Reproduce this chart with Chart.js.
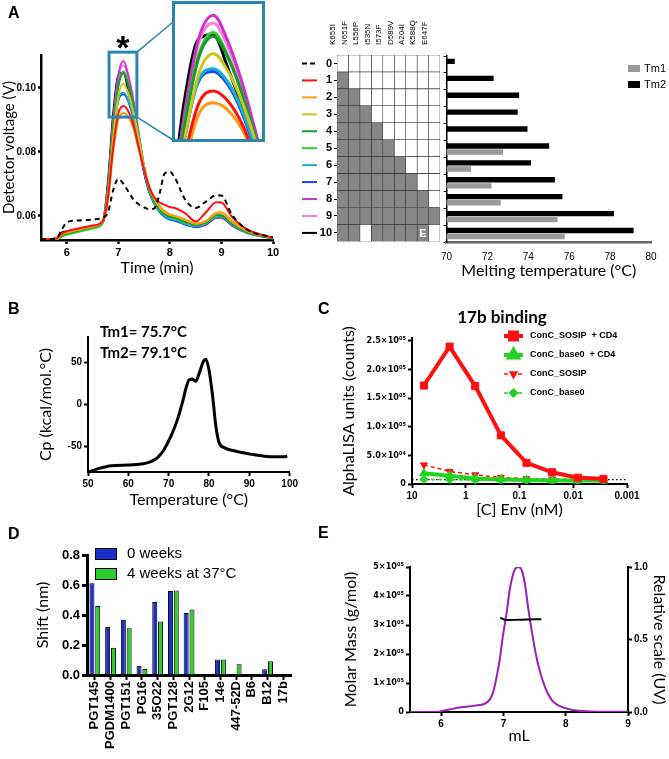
<!DOCTYPE html>
<html lang="en">
<head>
<meta charset="UTF-8">
<title>Env stabilisation figure</title>
<script src="https://cdn.jsdelivr.net/npm/chart.js@4.4.0/dist/chart.umd.min.js"></script>
<style>
  body { margin: 0; background: #fff; }
  #figure { position: relative; width: 669px; height: 759px; overflow: hidden; background: #fff;
            font-family: "Liberation Sans", Arial, sans-serif; }
  .panel { position: absolute; }
  .letter { position: absolute; font-size: 16px; font-weight: bold; line-height: 1; }
  #insetBox { border: 3px solid #2b87b0; box-sizing: border-box; background: #fff; }
</style>
</head>
<body>
<div id="figure">
  <div class="panel" style="left:0;top:0;width:285px;height:280px"><canvas id="secChart"></canvas></div>
  <div class="panel" style="left:440px;top:0;width:229px;height:280px"><canvas id="tmChart"></canvas></div>
  <div class="panel" style="left:290px;top:0;width:160px;height:250px"><canvas id="mutChart"></canvas></div>
  <div class="panel" id="insetBox" style="left:172px;top:1px;width:93px;height:141px"><canvas id="insetChart"></canvas></div>
  <div class="panel" style="left:0;top:320px;width:300px;height:190px"><canvas id="dscChart"></canvas></div>
  <div class="panel" style="left:300px;top:290px;width:369px;height:230px"><canvas id="lisaChart"></canvas></div>
  <div class="panel" style="left:0;top:530px;width:300px;height:229px"><canvas id="bliChart"></canvas></div>
  <div class="panel" style="left:300px;top:540px;width:369px;height:219px"><canvas id="malsChart"></canvas></div>
  <div class="letter" style="left:8px;top:5px">A</div>
  <div class="letter" style="left:8px;top:301px">B</div>
  <div class="letter" style="left:318px;top:301px">C</div>
  <div class="letter" style="left:8px;top:526px">D</div>
  <div class="letter" style="left:318px;top:525px">E</div>
</div>
<script>
// ---------- A: SEC traces (time in min, detector voltage in V) ----------
const secTime = [5.5, 5.8, 5.9, 6.0, 6.2, 6.5, 6.7, 6.8, 6.9, 7.0, 7.1, 7.2, 7.3, 7.4, 7.5,
                 7.6, 7.7, 7.8, 7.9, 8.0, 8.1, 8.3, 8.5, 8.7, 8.9, 9.0, 9.2, 9.5, 10.0];
const sec0  = [0.0527, 0.0530, 0.0557, 0.0580, 0.0586, 0.0589, 0.0595, 0.0612, 0.0680, 0.0716, 0.0700, 0.0675, 0.0650, 0.0636, 0.0627,
               0.0621, 0.0624, 0.0670, 0.0733, 0.0738, 0.0718, 0.0650, 0.0625, 0.0645, 0.0665, 0.0664, 0.0605, 0.0557, 0.0533];
const sec1  = [0.0527, 0.0530, 0.0545, 0.0552, 0.0560, 0.0570, 0.0585, 0.0660, 0.0815, 0.0920, 0.0944, 0.0925, 0.0880, 0.0810, 0.0745,
               0.0690, 0.0658, 0.0642, 0.0635, 0.0628, 0.0625, 0.0608, 0.0583, 0.0612, 0.0643, 0.0642, 0.0598, 0.0558, 0.0532];
const sec2  = [0.0527, 0.0530, 0.0543, 0.0550, 0.0558, 0.0568, 0.0584, 0.0650, 0.0800, 0.0900, 0.0922, 0.0908, 0.0870, 0.0805, 0.0745,
               0.0690, 0.0655, 0.0632, 0.0615, 0.0605, 0.0600, 0.0588, 0.0576, 0.0585, 0.0610, 0.0612, 0.0585, 0.0555, 0.0532];
const sec3  = [0.0527, 0.0529, 0.0541, 0.0548, 0.0556, 0.0567, 0.0583, 0.0670, 0.0845, 0.0975, 0.1013, 0.0980, 0.0920, 0.0840, 0.0755,
               0.0692, 0.0652, 0.0628, 0.0612, 0.0604, 0.0600, 0.0588, 0.0576, 0.0584, 0.0608, 0.0610, 0.0582, 0.0553, 0.0531];
const sec4  = [0.0527, 0.0528, 0.0538, 0.0545, 0.0553, 0.0565, 0.0580, 0.0680, 0.0870, 0.1005, 0.1045, 0.1005, 0.0935, 0.0845, 0.0752,
               0.0686, 0.0646, 0.0622, 0.0606, 0.0598, 0.0594, 0.0582, 0.0572, 0.0580, 0.0603, 0.0602, 0.0576, 0.0550, 0.0530];
const sec5  = [0.0527, 0.0527, 0.0535, 0.0541, 0.0549, 0.0561, 0.0578, 0.0680, 0.0875, 0.1010, 0.1052, 0.1008, 0.0935, 0.0842, 0.0748,
               0.0682, 0.0643, 0.0620, 0.0604, 0.0596, 0.0592, 0.0580, 0.0571, 0.0578, 0.0600, 0.0600, 0.0575, 0.0549, 0.0530];
const sec6  = [0.0527, 0.0528, 0.0539, 0.0546, 0.0554, 0.0565, 0.0582, 0.0670, 0.0850, 0.0965, 0.0985, 0.0960, 0.0905, 0.0825, 0.0742,
               0.0678, 0.0640, 0.0615, 0.0600, 0.0592, 0.0588, 0.0576, 0.0568, 0.0576, 0.0598, 0.0598, 0.0573, 0.0548, 0.0530];
const sec7  = [0.0527, 0.0528, 0.0539, 0.0546, 0.0554, 0.0565, 0.0582, 0.0668, 0.0848, 0.0962, 0.0980, 0.0955, 0.0900, 0.0820, 0.0738,
               0.0675, 0.0637, 0.0612, 0.0597, 0.0589, 0.0585, 0.0573, 0.0566, 0.0575, 0.0597, 0.0597, 0.0572, 0.0548, 0.0530];
const sec8  = [0.0527, 0.0528, 0.0539, 0.0546, 0.0554, 0.0565, 0.0582, 0.0690, 0.0895, 0.1040, 0.1084, 0.1035, 0.0955, 0.0855, 0.0755,
               0.0685, 0.0642, 0.0617, 0.0600, 0.0592, 0.0588, 0.0575, 0.0565, 0.0572, 0.0594, 0.0594, 0.0570, 0.0547, 0.0530];
const sec9  = [0.0527, 0.0528, 0.0539, 0.0546, 0.0554, 0.0565, 0.0582, 0.0688, 0.0890, 0.1032, 0.1070, 0.1025, 0.0948, 0.0850, 0.0752,
               0.0684, 0.0642, 0.0618, 0.0601, 0.0593, 0.0589, 0.0576, 0.0567, 0.0575, 0.0597, 0.0597, 0.0572, 0.0548, 0.0530];
const sec10 = [0.0527, 0.0530, 0.0548, 0.0552, 0.0557, 0.0566, 0.0583, 0.0710, 0.0920, 0.1040, 0.1048, 0.0985, 0.0910, 0.0820, 0.0735,
               0.0675, 0.0640, 0.0618, 0.0603, 0.0596, 0.0592, 0.0580, 0.0570, 0.0578, 0.0601, 0.0601, 0.0575, 0.0550, 0.0531];
const secColors = ['#000000', '#ff1010', '#ff9a12', '#c8c81a', '#1e9632', '#2fd12f', '#1ab0cc', '#0d47ff', '#cc33cc', '#ff7ee0', '#000000'];
const secTicksX = [6, 7, 8, 9, 10];
const secTicksY = [0.06, 0.08, 0.10];
const zoomBox = { x: [6.82, 7.36], y: [0.0909, 0.1112] };

// ---------- A: mutation table and melting temperatures ----------
const rowLabels = ['0', '1', '2', '3', '4', '5', '6', '7', '8', '9', '10'];
const mutations = ['K655I', 'N651F', 'L556P', 'I535N', 'I573F', 'D589V', 'A204I', 'K588Q', 'E647F'];
const mutMatrix = [
  [0, 0, 0, 0, 0, 0, 0, 0, 0],
  [1, 0, 0, 0, 0, 0, 0, 0, 0],
  [1, 1, 0, 0, 0, 0, 0, 0, 0],
  [1, 1, 1, 0, 0, 0, 0, 0, 0],
  [1, 1, 1, 1, 0, 0, 0, 0, 0],
  [1, 1, 1, 1, 1, 0, 0, 0, 0],
  [1, 1, 1, 1, 1, 1, 0, 0, 0],
  [1, 1, 1, 1, 1, 1, 1, 0, 0],
  [1, 1, 1, 1, 1, 1, 1, 1, 0],
  [1, 1, 1, 1, 1, 1, 1, 1, 1],
  [1, 1, 0, 1, 1, 1, 1, 1, 0]
];
const tm1 = [null, null, null, null, null, 72.76, 71.2, 72.2, 72.65, 75.43, 75.78];
const tm2 = [70.4, 72.3, 73.55, 73.48, 73.96, 75.02, 74.13, 75.3, 75.67, 78.19, 79.15];
const tmTicks = [70, 72, 74, 76, 78, 80];

// ---------- B: DSC ----------
const dscTemp = [50, 52.5, 55.8, 59.9, 63.2, 65.6, 67.3, 68.9, 70.6, 72.2, 73.5, 74.3, 75.1, 75.9,
                 76.7, 77.6, 78.6, 79.2, 80.0, 80.9, 81.7, 82.5, 83.7, 86.2, 90.3, 94.4, 98.6, 99.4];
const dscCp   = [-80, -76, -72.5, -71.8, -70.6, -67.8, -62.7, -53, -37.3, -17.6, 3.9, 19.6, 29.4, 30.2,
                 27.5, 37.3, 51, 53.7, 41.2, 9.8, -25.5, -45.1, -51, -54.9, -58.8, -61.6, -62, -61];
const dscTicksX = [50, 60, 70, 80, 90, 100];
const dscTicksY = [-50, 0, 50];

// ---------- C: AlphaLISA 17b binding ----------
const lisaConc  = [6, 2, 0.667, 0.222, 0.0741, 0.0247, 0.00823, 0.00274];
const sosipCD4  = [172000, 240000, 171000, 85000, 37000, 20500, 11000, 9000];
const base0CD4  = [18600, 14600, 9800, 8000, 6800, 6200, 6000, 6000];
const sosipOnly = [33400, 22000, 16000, 11600, 9000, 8500, 8000, 7500];
const base0Only = [8000, 7500, 7000, 6800, 6500, 6300, 6200, 6000];
const lisaCutoff = 7500;
const lisaTicksX = [10, 1, 0.1, 0.01, 0.001];
const lisaTickLabelsX = ['10', '1', '0.1', '0.01', '0.001'];
const lisaTicksY = [0, 50000, 100000, 150000, 200000, 250000];
const lisaTickLabelsY = ['0', '5.0×10⁰⁴', '1.0×10⁰⁵', '1.5×10⁰⁵', '2.0×10⁰⁵', '2.5×10⁰⁵'];

// ---------- D: BLI shifts ----------
const bliAntibodies = ['PGT145', 'PGDM1400', 'PGT151', 'PG16', '35O22', 'PGT128', '2G12', 'F105', '14e', '447-52D', 'B6', 'B12', '17b'];
const bli0wk = [0.611, 0.32, 0.369, 0.062, 0.487, 0.56, 0.413, 0, 0.104, 0, 0.007, 0.038, 0];
const bli4wk = [0.46, 0.182, 0.311, 0.04, 0.356, 0.564, 0.436, 0, 0.104, 0.071, 0, 0.091, 0];
const bliTicksY = [0, 0.2, 0.4, 0.6, 0.8];

// ---------- E: SEC-MALS ----------
const uvVol = [5.5, 5.9, 6.11, 6.32, 6.54, 6.70, 6.78, 6.83, 6.88, 6.94, 6.99, 7.05, 7.10, 7.17, 7.24,
               7.30, 7.35, 7.40, 7.47, 7.55, 7.66, 7.77, 7.88, 8.04, 8.25, 8.63, 9.0];
const uvRel = [0, 0, 0.016, 0.032, 0.044, 0.057, 0.085, 0.13, 0.22, 0.36, 0.52, 0.68, 0.84, 0.97, 1.0,
               0.97, 0.87, 0.71, 0.52, 0.34, 0.18, 0.085, 0.046, 0.021, 0.007, 0.002, 0.002];
const massVol = [6.95, 7.02, 7.23, 7.42, 7.61];
const massMw  = [325000, 318000, 318000, 319000, 320000];
const malsTicksX = [6, 7, 8, 9];
const malsTicksY = [0, 100000, 200000, 300000, 400000, 500000];
const malsTickLabelsY = ['0', '1×10⁰⁵', '2×10⁰⁵', '3×10⁰⁵', '4×10⁰⁵', '5×10⁰⁵'];
const uvTicks = [0, 0.5, 1.0];

// ---------- shared look ----------
const ARIAL = "'Liberation Sans', Arial, sans-serif";
const SUPFONT = "'DejaVu Sans Condensed', 'DejaVu Sans', sans-serif";
const CALIBRI = "Lato, 'Liberation Sans', sans-serif";
const TEAL = '#2b87b0';
const CELL_GRAY = '#878787';
Chart.defaults.font.family = ARIAL;
Chart.defaults.color = '#000';
Chart.defaults.animation = false;
Chart.defaults.responsive = true;
Chart.defaults.maintainAspectRatio = false;
Chart.defaults.plugins.legend.display = false;
Chart.defaults.plugins.tooltip.enabled = false;
Chart.defaults.elements.point.radius = 0;

function setTicks(list) { return function (s) { s.ticks = list.map(function (v) { return { value: v }; }); }; }
function fixWidth(w) { return function (s) { s.width = w; }; }
function fixHeight(h) { return function (s) { s.height = h; }; }
function pick(values, labels) { return function (v) { return labels[values.indexOf(v)]; }; }
function points(xs, ys) { return xs.map(function (x, i) { return { x: x, y: ys[i] }; }); }
// Prism-style axis: black line, outward tick marks, no grid
function prism(lineW, tickLen, extra) {
  return Object.assign({
    border: { display: true, color: '#000', width: lineW },
    grid: { display: true, drawOnChartArea: false, drawTicks: true, tickLength: tickLen, tickWidth: lineW, tickColor: '#000' }
  }, extra);
}
function axisTitle(text, size, pad) {
  return { display: true, text: text, font: { family: CALIBRI, size: size }, padding: pad };
}
function label(ctx, text, x, y, font, align) {
  ctx.save();
  ctx.font = font;
  ctx.fillStyle = '#000';
  ctx.textAlign = align || 'left';
  ctx.textBaseline = 'middle';
  ctx.fillText(text, x, y);
  ctx.restore();
}

function secDatasets(width) {
  const curves = [sec0, sec1, sec2, sec3, sec4, sec5, sec6, sec7, sec8, sec9, sec10];
  return curves.map(function (c, i) {
    return {
      data: points(secTime, c),
      borderColor: secColors[i],
      borderWidth: width,
      borderDash: i === 0 ? [5, 4] : [],
      cubicInterpolationMode: 'monotone'
    };
  });
}

// ---------- A: SEC main ----------
const secOverlay = {
  id: 'secOverlay',
  afterDraw(chart) {
    const ctx = chart.ctx, xs = chart.scales.x, ys = chart.scales.y;
    const x0 = xs.getPixelForValue(zoomBox.x[0]), x1 = xs.getPixelForValue(zoomBox.x[1]);
    const y0 = ys.getPixelForValue(zoomBox.y[1]), y1 = ys.getPixelForValue(zoomBox.y[0]);
    ctx.save();
    ctx.strokeStyle = TEAL;
    ctx.lineWidth = 3;
    ctx.strokeRect(x0, y0, x1 - x0, y1 - y0);
    ctx.lineWidth = 1.5;
    ctx.beginPath();
    ctx.moveTo(x1, y0); ctx.lineTo(173, 22);
    ctx.moveTo(x1, y1); ctx.lineTo(173, 140);
    ctx.stroke();
    ctx.restore();
    label(chart.ctx, '*', (x0 + x1) / 2, y0 - 2, 'bold 34px ' + ARIAL, 'center');
  }
};

new Chart(document.getElementById('secChart'), {
  type: 'line',
  data: { datasets: secDatasets(2) },
  options: {
    layout: { padding: { top: 55, right: 12, left: 0, bottom: 0 } },
    scales: {
      x: prism(2.5, 4, {
        type: 'linear', min: 5.5, max: 10,
        afterBuildTicks: setTicks(secTicksX), afterFit: fixHeight(40),
        ticks: { font: { size: 11, weight: 'bold' }, padding: 2 },
        title: axisTitle('Time (min)', 16, { top: 0, bottom: 3 })
      }),
      y: prism(2.5, 3, {
        min: 0.0525, max: 0.1103,
        afterBuildTicks: setTicks(secTicksY), afterFit: fixWidth(41),
        ticks: { font: { size: 10, weight: 'bold' }, padding: 2, callback: function (v) { return v.toFixed(2); } },
        title: axisTitle('Detector voltage (V)', 15, { top: 0, bottom: 0 })
      })
    }
  },
  plugins: [secOverlay]
});

new Chart(document.getElementById('insetChart'), {
  type: 'line',
  data: { datasets: secDatasets(3) },
  options: {
    layout: { padding: 0 },
    scales: {
      x: { type: 'linear', display: false, min: 6.84, max: 7.43 },
      y: { display: false, min: 0.0855, max: 0.1105 }
    }
  }
});

// ---------- A: mutation grid ----------
const mutOverlay = {
  id: 'mutOverlay',
  afterDraw(chart) {
    const ctx = chart.ctx, ys = chart.scales.y, xs = chart.scales.x;
    ctx.save();
    ctx.lineWidth = 2;
    rowLabels.forEach(function (r, i) {
      const y = ys.getPixelForValue(i);
      ctx.strokeStyle = secColors[i];
      ctx.setLineDash(i === 0 ? [5, 3] : []);
      ctx.beginPath();
      ctx.moveTo(12, y); ctx.lineTo(27, y);
      ctx.stroke();
    });
    ctx.restore();
    ctx.save();
    ctx.fillStyle = '#fff';
    ctx.font = 'bold 11px ' + ARIAL;
    ctx.textAlign = 'center';
    ctx.textBaseline = 'middle';
    ctx.fillText('E', xs.getPixelForValue(7.5), ys.getPixelForValue(10) + 1);
    ctx.restore();
  }
};

new Chart(document.getElementById('mutChart'), {
  type: 'bar',
  data: {
    labels: rowLabels,
    datasets: mutations.map(function (m, j) {
      return {
        label: m,
        data: rowLabels.map(function () { return 1; }),
        backgroundColor: mutMatrix.map(function (r) { return r[j] ? CELL_GRAY : '#ffffff'; }),
        borderColor: '#333',
        borderWidth: 0.6,
        borderSkipped: false,
        barPercentage: 1,
        categoryPercentage: 1
      };
    })
  },
  options: {
    indexAxis: 'y',
    layout: { padding: { top: 0, right: 10, left: 0, bottom: 6 } },
    scales: {
      x: { stacked: true, min: 0, max: 9, display: false },
      x2: {
        type: 'category', position: 'top', labels: mutations, offset: true,
        grid: { display: false }, border: { display: false },
        ticks: { autoSkip: false, minRotation: 90, maxRotation: 90, padding: 2,
                 font: { size: 8, family: "'Liberation Sans Narrow', " + ARIAL } },
        afterFit: fixHeight(55)
      },
      y: {
        stacked: true, offset: true,
        border: { display: false },
        grid: { display: true, drawOnChartArea: false, offset: false, tickLength: 3, tickColor: '#000' },
        ticks: { autoSkip: false, padding: 2, font: { size: 11, weight: 'bold' } },
        afterFit: fixWidth(47)
      }
    }
  },
  plugins: [mutOverlay]
});

// ---------- A: Tm bars ----------
const tmLegend = {
  id: 'tmLegend',
  afterDraw(chart) {
    const ctx = chart.ctx;
    ctx.save();
    ctx.fillStyle = '#9a9a9a'; ctx.fillRect(188, 65, 12, 7);
    ctx.fillStyle = '#000'; ctx.fillRect(188, 81, 12, 7);
    ctx.restore();
    label(ctx, 'Tm1', 204, 69, '11px ' + ARIAL);
    label(ctx, 'Tm2', 204, 85, '11px ' + ARIAL);
  }
};

new Chart(document.getElementById('tmChart'), {
  type: 'bar',
  data: {
    labels: rowLabels,
    datasets: [
      { label: 'Tm2', data: tm2, backgroundColor: '#000' },
      { label: 'Tm1', data: tm1, backgroundColor: '#9a9a9a' }
    ]
  },
  options: {
    indexAxis: 'y',
    layout: { padding: { top: 56, right: 18, left: 0, bottom: 0 } },
    datasets: { bar: { categoryPercentage: 0.72, barPercentage: 0.88 } },
    scales: {
      x: {
        type: 'linear', min: 70, max: 80,
        afterBuildTicks: setTicks(tmTicks), afterFit: fixHeight(38),
        grid: { display: false },
        border: { display: true, color: '#666', width: 2.5 },
        ticks: { font: { size: 10 }, padding: 1 },
        title: axisTitle('Melting temperature (°C)', 16, { top: 0, bottom: 0 })
      },
      y: {
        border: { display: true, color: '#000', width: 1.5 },
        grid: { display: true, drawOnChartArea: false, offset: true, tickLength: 3, tickColor: '#000' },
        ticks: { display: false },
        afterFit: fixWidth(3)
      }
    }
  },
  plugins: [tmLegend]
});

// ---------- B: DSC ----------
const dscNotes = {
  id: 'dscNotes',
  afterDraw(chart) {
    label(chart.ctx, 'Tm1= 75.7°C', 100, 12, 'bold 15px ' + CALIBRI);
    label(chart.ctx, 'Tm2= 79.1°C', 100, 33, 'bold 15px ' + CALIBRI);
  }
};

new Chart(document.getElementById('dscChart'), {
  type: 'line',
  data: { datasets: [{ data: points(dscTemp, dscCp), borderColor: '#000', borderWidth: 3, cubicInterpolationMode: 'monotone' }] },
  options: {
    layout: { padding: { top: 17, right: 10, left: 36, bottom: 0 } },
    scales: {
      x: prism(2, 4, {
        type: 'linear', min: 50, max: 100,
        afterBuildTicks: setTicks(dscTicksX), afterFit: fixHeight(38),
        ticks: { font: { size: 10, weight: 'bold' }, padding: 2 },
        title: axisTitle('Temperature (°C)', 16, { top: 0, bottom: 1 })
      }),
      y: prism(2, 4, {
        min: -80, max: 80,
        afterBuildTicks: setTicks(dscTicksY), afterFit: fixWidth(52),
        ticks: { font: { size: 10, weight: 'bold' }, padding: 2 },
        title: axisTitle('Cp (kcal/mol.°C)', 16, { top: 0, bottom: 0 })
      })
    }
  },
  plugins: [dscNotes]
});

// ---------- C: AlphaLISA ----------
const lisaSeries = [
  { name: 'ConC_SOSIP  + CD4', color: '#ff1010', width: 4, dash: [], style: 'rect', rot: 0, r: 5 },
  { name: 'ConC_base0  + CD4', color: '#22d322', width: 4, dash: [], style: 'triangle', rot: 0, r: 5 },
  { name: 'ConC_SOSIP', color: '#ff1010', width: 1.5, dash: [4, 3], style: 'triangle', rot: 180, r: 4 },
  { name: 'ConC_base0', color: '#22d322', width: 1.5, dash: [4, 3], style: 'rectRot', rot: 0, r: 4 }
];
const lisaValues = [sosipCD4, base0CD4, sosipOnly, base0Only];

const lisaDecor = {
  id: 'lisaDecor',
  afterDraw(chart) {
    const ctx = chart.ctx;
    label(ctx, '17b binding', 202, 28, 'bold 17px ' + CALIBRI, 'center');
    lisaSeries.forEach(function (s, i) {
      const y = 46 + i * 19;
      ctx.save();
      ctx.strokeStyle = s.color;
      ctx.fillStyle = s.color;
      ctx.lineWidth = s.width;
      ctx.setLineDash(s.dash);
      ctx.beginPath(); ctx.moveTo(204, y); ctx.lineTo(223, y); ctx.stroke();
      ctx.setLineDash([]);
      Chart.helpers.drawPoint(ctx, { pointStyle: s.style, rotation: s.rot, radius: s.r, borderWidth: 1 }, 213.5, y);
      ctx.restore();
      label(ctx, s.name, 230, y, 'bold 9px ' + ARIAL);
    });
  }
};

const lisaSets = lisaSeries.map(function (s, i) {
  return {
    data: points(lisaConc, lisaValues[i]),
    borderColor: s.color, backgroundColor: s.color,
    borderWidth: s.width, borderDash: s.dash,
    pointStyle: s.style, pointRotation: s.rot, pointRadius: s.r,
    pointBorderWidth: 1, pointBorderColor: s.color, pointBackgroundColor: s.color
  };
});
lisaSets.push({
  data: points([10, 0.001], [lisaCutoff, lisaCutoff]),
  borderColor: '#000', borderWidth: 1.2, borderDash: [1.5, 2.5], pointRadius: 0
});

new Chart(document.getElementById('lisaChart'), {
  type: 'line',
  data: { datasets: lisaSets },
  options: {
    layout: { padding: { top: 48, right: 42, left: 38, bottom: 0 } },
    scales: {
      x: prism(2, 4, {
        type: 'logarithmic', reverse: true, min: 0.001, max: 10,
        afterBuildTicks: setTicks(lisaTicksX), afterFit: fixHeight(36),
        ticks: { font: { size: 10, weight: 'bold' }, padding: 2, callback: pick(lisaTicksX, lisaTickLabelsX) },
        title: axisTitle('[C] Env (nM)', 16, { top: 0, bottom: 1 })
      }),
      y: prism(2, 4, {
        min: 0, max: 255000,
        afterBuildTicks: setTicks(lisaTicksY), afterFit: fixWidth(74),
        ticks: { font: { size: 9, weight: 'bold', family: SUPFONT }, padding: 2, callback: pick(lisaTicksY, lisaTickLabelsY) },
        title: axisTitle('AlphaLISA units (counts)', 16, { top: 1, bottom: 0 })
      })
    }
  },
  plugins: [lisaDecor]
});

// ---------- D: BLI ----------
const BLUE = '#1a30cc';
const GREEN = '#2fcc2f';
const bliLegend = {
  id: 'bliLegend',
  afterDraw(chart) {
    const ctx = chart.ctx;
    ctx.save();
    ctx.lineWidth = 1;
    ctx.strokeStyle = '#000';
    ctx.fillStyle = BLUE; ctx.fillRect(95.5, 18.5, 21, 11); ctx.strokeRect(95.5, 18.5, 21, 11);
    ctx.fillStyle = GREEN; ctx.fillRect(95.5, 38.5, 21, 11); ctx.strokeRect(95.5, 38.5, 21, 11);
    ctx.restore();
    label(ctx, '0 weeks', 127, 24, '15px ' + ARIAL);
    label(ctx, '4 weeks at 37°C', 127, 44, '15px ' + ARIAL);
  }
};

new Chart(document.getElementById('bliChart'), {
  type: 'bar',
  data: {
    labels: bliAntibodies,
    datasets: [
      { label: '0 weeks', data: bli0wk, backgroundColor: BLUE, borderColor: '#000', borderWidth: 1 },
      { label: '4 weeks at 37°C', data: bli4wk, backgroundColor: GREEN, borderColor: '#000', borderWidth: 1 }
    ]
  },
  options: {
    layout: { padding: { top: 25, right: 3, left: 32, bottom: 0 } },
    datasets: { bar: { categoryPercentage: 0.74, barPercentage: 0.86 } },
    scales: {
      x: {
        border: { display: true, color: '#000', width: 3 },
        grid: { display: true, drawOnChartArea: false, offset: false, tickLength: 5, tickWidth: 2, tickColor: '#000' },
        ticks: { autoSkip: false, minRotation: 90, maxRotation: 90, padding: 1, font: { size: 13, weight: 'bold' } },
        afterFit: fixHeight(84)
      },
      y: prism(3, 5, {
        min: 0, max: 0.8,
        afterBuildTicks: setTicks(bliTicksY), afterFit: fixWidth(55),
        ticks: { font: { size: 13, weight: 'bold' }, padding: 2, callback: function (v) { return v.toFixed(1); } },
        title: axisTitle('Shift (nm)', 16, { top: 1, bottom: 0 })
      })
    }
  },
  plugins: [bliLegend]
});

// ---------- E: SEC-MALS ----------
new Chart(document.getElementById('malsChart'), {
  type: 'line',
  data: {
    datasets: [
      { data: points(massVol, massMw), borderColor: '#000', borderWidth: 2, yAxisID: 'y', tension: 0.3 },
      { data: points(uvVol, uvRel), borderColor: '#9a1fb8', borderWidth: 2, yAxisID: 'y1', cubicInterpolationMode: 'monotone' }
    ]
  },
  options: {
    layout: { padding: { top: 27, right: 0, left: 40, bottom: 0 } },
    scales: {
      x: prism(2, 4, {
        type: 'linear', min: 5.5, max: 9,
        afterBuildTicks: setTicks(malsTicksX), afterFit: fixHeight(47),
        ticks: { font: { size: 10, weight: 'bold' }, padding: 2 },
        title: axisTitle('mL', 16, { top: 0, bottom: 14 })
      }),
      y: prism(2, 4, {
        position: 'left', min: 0, max: 500000,
        afterBuildTicks: setTicks(malsTicksY), afterFit: fixWidth(70),
        ticks: { font: { size: 9, weight: 'bold', family: SUPFONT }, padding: 2, callback: pick(malsTicksY, malsTickLabelsY) },
        title: axisTitle('Molar Mass (g/mol)', 16, { top: 1, bottom: 0 })
      }),
      y1: prism(2, 4, {
        position: 'right', min: 0, max: 1,
        afterBuildTicks: setTicks(uvTicks), afterFit: fixWidth(41),
        ticks: { font: { size: 10, weight: 'bold' }, padding: 2, callback: function (v) { return v.toFixed(1); } },
        title: axisTitle('Relative scale (UV)', 16, { top: 0, bottom: 0 })
      })
    }
  }
});
</script>
</body>
</html>
